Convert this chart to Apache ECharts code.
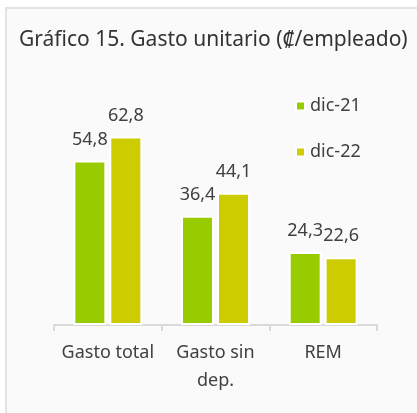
<!DOCTYPE html>
<html lang="es">
<head>
    <meta charset="UTF-8">
    <title>Gasto unitario</title>
    <style>
        html, body {
            margin: 0;
            padding: 0;
            background: #ffffff;
        }

        #chart {
            width: 417px;
            height: 413px;
        }
    </style>
    <script src="https://cdn.jsdelivr.net/npm/echarts@6/dist/echarts.min.js"></script>
</head>
<body>
<div id="chart"></div>
<script>
    // datos del gráfico
    var categorias = ['Gasto total', 'Gasto sin\ndep.', 'REM'];
    var dic21 = [54.8, 36.4, 24.3];
    var dic22 = [62.8, 44.1, 22.6];
    var nombresSerie = ['dic-21', 'dic-22'];

    var fuente = '"Noto Sans", "DejaVu Sans", sans-serif';
    var colorTexto = '#404040';

    var chart = echarts.init(document.getElementById('chart'));

    // etiqueta con coma decimal
    function etiqueta(p) {
        return p.value.toFixed(1).replace('.', ',');
    }

    var option = {
        backgroundColor: '#ffffff',
        animation: false,
        // marco del área del gráfico
        graphic: [{
            type: 'rect',
            silent: true,
            z: -10,
            shape: {x: 6, y: 8, width: 440, height: 440},
            style: {fill: '#fafafa', stroke: '#e3e3e3', lineWidth: 2}
        }],
        title: {
            text: 'Gráfico 15. Gasto unitario (₡/empleado)',
            left: 14,
            top: 25,
            textStyle: {
                fontFamily: fuente,
                fontSize: 21,
                fontWeight: 'normal',
                color: '#333333'
            }
        },
        legend: {
            data: nombresSerie,
            orient: 'vertical',
            left: 290,
            top: 91,
            icon: 'rect',
            itemWidth: 9,
            itemHeight: 9,
            itemGap: 26,
            textStyle: {
                fontFamily: fuente,
                fontSize: 18,
                lineHeight: 20,
                color: colorTexto
            }
        },
        grid: {
            left: 54,
            right: 40,
            top: 100,
            bottom: 88
        },
        xAxis: {
            type: 'category',
            data: categorias,
            axisLine: {lineStyle: {color: '#d9d9d9', width: 2}},
            axisTick: {show: true, length: 6, lineStyle: {color: '#d9d9d9', width: 2}},
            axisLabel: {
                interval: 0,
                fontFamily: fuente,
                fontSize: 18,
                lineHeight: 28,
                color: colorTexto,
                margin: 14
            }
        },
        yAxis: {
            type: 'value',
            min: 0,
            max: 75,
            show: false,
            splitLine: {show: false}
        },
        series: [
            {
                name: nombresSerie[0],
                type: 'bar',
                data: dic21,
                barWidth: 33,
                barGap: '9%',
                itemStyle: {color: '#99cc00', borderColor: '#ffffff', borderWidth: 2},
                label: {
                    show: true,
                    position: 'top',
                    distance: 12,
                    formatter: etiqueta,
                    fontFamily: fuente,
                    fontSize: 18,
                    color: colorTexto
                }
            },
            {
                name: nombresSerie[1],
                type: 'bar',
                data: dic22,
                barWidth: 33,
                itemStyle: {color: '#cccc00', borderColor: '#ffffff', borderWidth: 2},
                label: {
                    show: true,
                    position: 'top',
                    distance: 12,
                    formatter: etiqueta,
                    fontFamily: fuente,
                    fontSize: 18,
                    color: colorTexto
                }
            }
        ]
    };

    chart.setOption(option);
</script>
</body>
</html>
